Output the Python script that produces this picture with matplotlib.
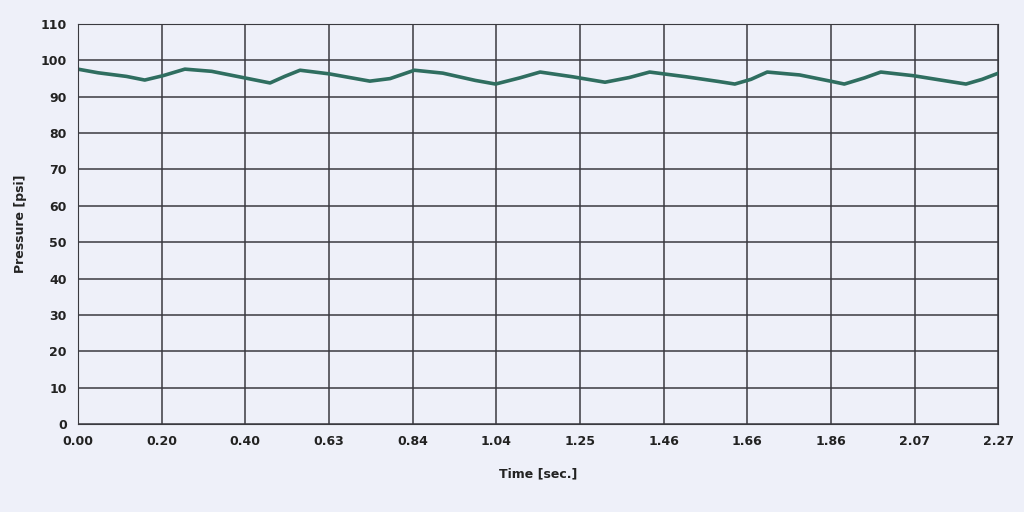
import numpy as np
import matplotlib.pyplot as plt

# values
time_s = [0.00, 0.05, 0.12, 0.165, 0.21, 0.264, 0.33, 0.42, 0.474, 0.51, 0.548, 0.62, 0.72, 0.77, 0.83,
          0.90, 0.98, 1.03, 1.09, 1.14, 1.22, 1.30, 1.36, 1.41, 1.50, 1.58, 1.62, 1.66, 1.70,
          1.78, 1.86, 1.89, 1.94, 1.98, 2.06, 2.15, 2.19, 2.23, 2.27]
pressure = [97.6, 96.6, 95.6, 94.6, 95.8, 97.6, 97.0, 95.0, 93.8, 95.6, 97.3, 96.3, 94.3, 95.0, 97.3,
            96.5, 94.5, 93.5, 95.2, 96.8, 95.5, 94.0, 95.3, 96.8, 95.5, 94.2, 93.5, 94.8, 96.8,
            96.0, 94.2, 93.5, 95.2, 96.8, 95.8, 94.2, 93.5, 94.8, 96.5]
tick_labels = ["0.00", "0.20", "0.40", "0.63", "0.84", "1.04", "1.25", "1.46",
               "1.66", "1.86", "2.07", "2.27"]

bg = "#eef0f9"
fig = plt.figure(figsize=(10.24, 5.12), dpi=100, facecolor=bg)
ax = fig.add_axes([0.076, 0.172, 0.899, 0.781], facecolor=bg)

ax.plot(time_s, pressure, color="#2f6e60", lw=2.6)

ax.set_xlim(0, 2.27)
ax.set_ylim(0, 110)
ax.set_xticks(np.linspace(0, 2.27, len(tick_labels)))
ax.set_xticklabels(tick_labels)
ax.set_yticks(range(0, 111, 10))
ax.grid(True, color="#3a3a40", lw=1.1)
for s in ax.spines.values():
    s.set_color("#3a3a40")
ax.tick_params(length=0, labelsize=9, colors="#222222", pad=8)
for lab in ax.get_xticklabels() + ax.get_yticklabels():
    lab.set_fontweight("bold")
ax.set_xlabel("Time [sec.]", fontsize=9, fontweight="bold", color="#222222", labelpad=14)
ax.set_ylabel("Pressure [psi]", fontsize=9, fontweight="bold", color="#222222", labelpad=10)

fig.savefig("out.png", dpi=100, facecolor=bg)
